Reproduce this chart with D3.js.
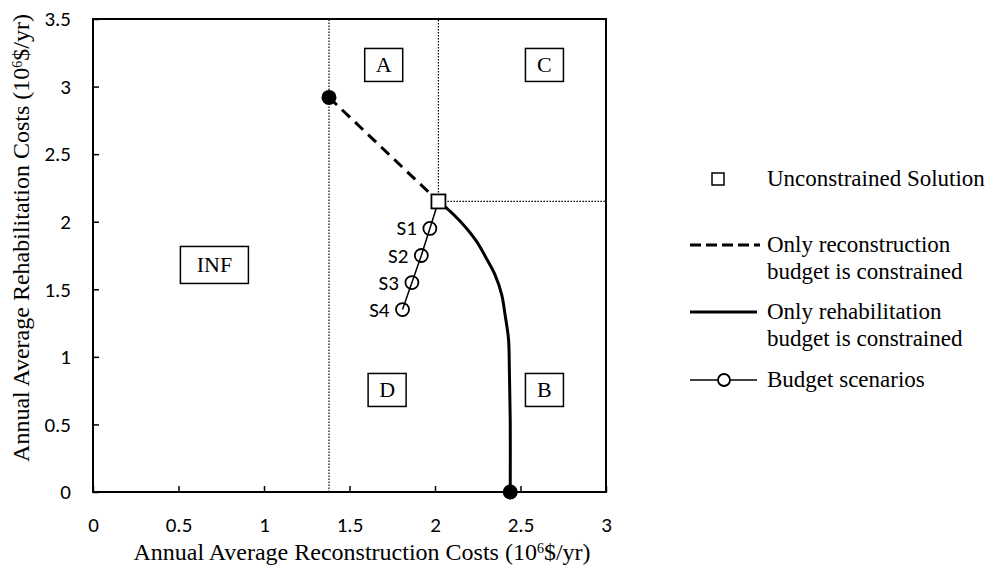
<!DOCTYPE html>
<html>
<head>
<meta charset="utf-8">
<script src="https://cdn.jsdelivr.net/npm/d3@7"></script>
<style>
    body { margin: 0; background: #fff; }
    .tick-label { font-family: Carlito, Calibri, Lato, sans-serif; font-size: 21px; fill: #000; }
    .scen-label { font-family: Carlito, Calibri, Lato, sans-serif; font-size: 21px; fill: #000; }
    .serif { font-family: "Liberation Serif", "Times New Roman", serif; font-size: 22px; fill: #000; }
    .legend-text { font-size: 23px; }
    .axis-title { font-size: 24px; }
</style>
</head>
<body>
<div id="chart"></div>
<script>
/*
----------------------------------------------------
    Data
----------------------------------------------------
*/
// Unconstrained solution (square marker)
const unconstrainedX = 2.02;
const unconstrainedY = 2.15;

// Only reconstruction budget constrained (dashed line, ends in filled dot)
const reconX = [1.38, 2.02];
const reconY = [2.92, 2.15];

// Only rehabilitation budget constrained (solid curve, ends in filled dot)
const rehabX = [2.02, 2.06, 2.15, 2.24, 2.30, 2.35, 2.39, 2.41, 2.43, 2.435, 2.44, 2.44];
const rehabY = [2.15, 2.11, 2.00, 1.86, 1.73, 1.61, 1.46, 1.31, 1.13, 0.90, 0.53, 0.00];

// Budget scenarios
const scenarioLabels = ["S1", "S2", "S3", "S4"];
const scenarioX = [1.97, 1.92, 1.865, 1.81];
const scenarioY = [1.95, 1.75, 1.55, 1.35];

// Region labels
const regionLabels = ["A", "C", "INF", "D", "B"];
const regionX = [1.70, 2.64, 0.71, 1.72, 2.64];
const regionY = [3.16, 3.16, 1.68, 0.755, 0.755];

// Axis ticks
const xTicks = [0, 0.5, 1, 1.5, 2, 2.5, 3];
const yTicks = [0, 0.5, 1, 1.5, 2, 2.5, 3, 3.5];

/*
----------------------------------------------------
    Chart
----------------------------------------------------
*/
var width = 996, height = 573;
var svg = d3.select("#chart").append("svg")
    .attr("width", width)
    .attr("height", height);

var x = d3.scaleLinear().domain([0, 3]).range([93, 606]);
var y = d3.scaleLinear().domain([0, 3.5]).range([492, 19]);

// Axes (ticks pointing inside)
var xAxis = svg.append("g")
    .attr("transform", "translate(0," + y(0) + ")")
    .call(d3.axisBottom(x).tickValues(xTicks).tickSizeInner(-6).tickSizeOuter(0).tickPadding(25)
        .tickFormat(d3.format("")));
xAxis.select(".domain").remove();
xAxis.selectAll("line").attr("stroke", "#000").attr("stroke-width", 1.5);
xAxis.selectAll("text").attr("class", "tick-label").attr("font-family", null).attr("font-size", null);

var yAxis = svg.append("g")
    .attr("transform", "translate(" + x(0) + ",0)")
    .call(d3.axisLeft(y).tickValues(yTicks).tickSizeInner(-6).tickSizeOuter(0).tickPadding(22)
        .tickFormat(d3.format("")));
yAxis.select(".domain").remove();
yAxis.selectAll("line").attr("stroke", "#000").attr("stroke-width", 1.5);
yAxis.selectAll("text").attr("class", "tick-label").attr("font-family", null).attr("font-size", null);

// Dotted guide lines
var dotted = "1.5,1.5";
svg.append("line")
    .attr("x1", x(reconX[0])).attr("x2", x(reconX[0]))
    .attr("y1", y(0)).attr("y2", y(3.5))
    .attr("stroke", "#000").attr("stroke-width", 1.2).attr("stroke-dasharray", dotted);
svg.append("line")
    .attr("x1", x(unconstrainedX)).attr("x2", x(unconstrainedX))
    .attr("y1", y(unconstrainedY)).attr("y2", y(3.5))
    .attr("stroke", "#000").attr("stroke-width", 1.2).attr("stroke-dasharray", dotted);
svg.append("line")
    .attr("x1", x(unconstrainedX)).attr("x2", x(3))
    .attr("y1", y(unconstrainedY)).attr("y2", y(unconstrainedY))
    .attr("stroke", "#000").attr("stroke-width", 1.2).attr("stroke-dasharray", dotted);

// Plot frame
svg.append("rect")
    .attr("x", x(0)).attr("y", y(3.5))
    .attr("width", x(3) - x(0)).attr("height", y(0) - y(3.5))
    .attr("fill", "none").attr("stroke", "#000").attr("stroke-width", 2);

// Region label boxes
regionLabels.forEach((d, i) => {
    var w = d === "INF" ? 68 : 38;
    var h = d === "INF" ? 37 : 33;
    svg.append("rect")
        .attr("x", x(regionX[i]) - w / 2).attr("y", y(regionY[i]) - h / 2)
        .attr("width", w).attr("height", h)
        .attr("fill", "#fff").attr("stroke", "#000").attr("stroke-width", 1.5);
    svg.append("text")
        .attr("class", "serif")
        .attr("x", x(regionX[i])).attr("y", y(regionY[i]) + 7)
        .attr("text-anchor", "middle")
        .text(d);
});

// Dashed line: only reconstruction constrained
var line = d3.line().x(d => x(d[0])).y(d => y(d[1]));
svg.append("path")
    .datum(reconX.map((d, i) => [d, reconY[i]]))
    .attr("d", line)
    .attr("fill", "none").attr("stroke", "#000").attr("stroke-width", 3)
    .attr("stroke-dasharray", "11,7");

// Solid curve: only rehabilitation constrained
var curve = d3.line().x(d => x(d[0])).y(d => y(d[1])).curve(d3.curveCatmullRom.alpha(0.5));
svg.append("path")
    .datum(rehabX.map((d, i) => [d, rehabY[i]]))
    .attr("d", curve)
    .attr("fill", "none").attr("stroke", "#000").attr("stroke-width", 3);

// Budget scenario line (from unconstrained solution)
var scen = [[unconstrainedX, unconstrainedY]].concat(scenarioX.map((d, i) => [d, scenarioY[i]]));
svg.append("path")
    .datum(scen)
    .attr("d", line)
    .attr("fill", "none").attr("stroke", "#000").attr("stroke-width", 1.5);

svg.selectAll(".scen")
    .data(scenarioX)
    .enter()
    .append("circle")
    .attr("cx", d => x(d))
    .attr("cy", (d, i) => y(scenarioY[i]))
    .attr("r", 6.5)
    .attr("fill", "none").attr("stroke", "#000").attr("stroke-width", 1.8);

svg.selectAll(".scenLabel")
    .data(scenarioLabels)
    .enter()
    .append("text")
    .attr("class", "scen-label")
    .attr("x", (d, i) => x(scenarioX[i]) - 13)
    .attr("y", (d, i) => y(scenarioY[i]) + 7)
    .attr("text-anchor", "end")
    .text(d => d);

// End points
svg.append("circle")
    .attr("cx", x(reconX[0])).attr("cy", y(reconY[0])).attr("r", 7.5).attr("fill", "#000");
svg.append("circle")
    .attr("cx", x(rehabX[rehabX.length - 1])).attr("cy", y(rehabY[rehabY.length - 1])).attr("r", 7.5).attr("fill", "#000");

// Unconstrained square
svg.append("rect")
    .attr("x", x(unconstrainedX) - 7).attr("y", y(unconstrainedY) - 7)
    .attr("width", 14).attr("height", 14)
    .attr("fill", "#fff").attr("stroke", "#000").attr("stroke-width", 1.8);

// Axis titles
svg.append("text")
    .attr("class", "serif axis-title")
    .attr("x", 362).attr("y", 560)
    .attr("text-anchor", "middle")
    .html("Annual Average Reconstruction Costs (10<tspan baseline-shift='super' font-size='14px'>6</tspan>$/yr)");

svg.append("text")
    .attr("class", "serif axis-title")
    .attr("transform", "translate(29,238) rotate(-90)")
    .attr("text-anchor", "middle")
    .html("Annual Average Rehabilitation Costs (10<tspan baseline-shift='super' font-size='14px'>6</tspan>$/yr)");

/*
----------------------------------------------------
    Legend
----------------------------------------------------
*/
var legend = svg.append("g");
var textX = 767;

legend.append("rect")
    .attr("x", 712).attr("y", 173).attr("width", 12).attr("height", 12)
    .attr("fill", "#fff").attr("stroke", "#000").attr("stroke-width", 1.5);
legend.append("text").attr("class", "serif legend-text").attr("x", textX).attr("y", 186).text("Unconstrained Solution");

legend.append("line")
    .attr("x1", 690).attr("x2", 760).attr("y1", 245).attr("y2", 245)
    .attr("stroke", "#000").attr("stroke-width", 3).attr("stroke-dasharray", "11,5");
legend.append("text").attr("class", "serif legend-text").attr("x", textX).attr("y", 252).text("Only reconstruction");
legend.append("text").attr("class", "serif legend-text").attr("x", textX).attr("y", 279).text("budget is constrained");

legend.append("line")
    .attr("x1", 690).attr("x2", 757).attr("y1", 312).attr("y2", 312)
    .attr("stroke", "#000").attr("stroke-width", 3);
legend.append("text").attr("class", "serif legend-text").attr("x", textX).attr("y", 319).text("Only rehabilitation");
legend.append("text").attr("class", "serif legend-text").attr("x", textX).attr("y", 346).text("budget is constrained");

legend.append("line")
    .attr("x1", 690).attr("x2", 757).attr("y1", 380).attr("y2", 380)
    .attr("stroke", "#000").attr("stroke-width", 1.5);
legend.append("circle")
    .attr("cx", 724).attr("cy", 380).attr("r", 6)
    .attr("fill", "#fff").attr("stroke", "#000").attr("stroke-width", 1.8);
legend.append("text").attr("class", "serif legend-text").attr("x", textX).attr("y", 387).text("Budget scenarios");
</script>
</body>
</html>
